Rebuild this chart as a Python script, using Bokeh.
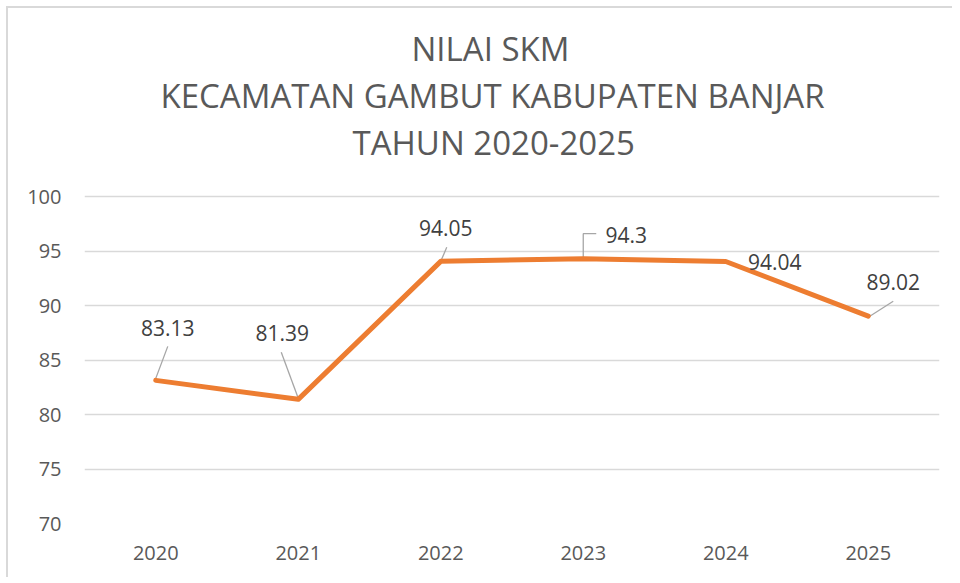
from bokeh.plotting import figure
from bokeh.models import ColumnDataSource, FactorRange, Range1d, FixedTicker, Title
from bokeh.core.properties import value
from bokeh.embed import file_html
from bokeh.resources import INLINE

# ---- data ----
years = ["2020", "2021", "2022", "2023", "2024", "2025"]
skm = [83.13, 81.39, 94.05, 94.3, 94.04, 89.02]
label_text = ["83.13", "81.39", "94.05", "94.3", "94.04", "89.02"]
y_ticks = [70, 75, 80, 85, 90, 95, 100]
title_lines = ["NILAI SKM", "KECAMATAN GAMBUT KABUPATEN BANJAR", "TAHUN 2020-2025"]

# ---- styling: label placement in screen pixels relative to each point ----
label_dx = [12, -16, 5, 43, 49, 25]
label_dy = [-52, -66, -33, -24, 1, -34]
leaders = [
    [(0, -2), (12, -34)],
    [(0, -1), (-17, -47)],
    [(0, 0), (6, -14)],
    [(0, -1), (0, -25), (13, -25)],
    [],
    [(0, 1), (25, -15)],
]
# title: left offsets (px from frame left) that centre each line near x=491
title_offsets = [327, 76, 268]

W, H = 946, 571
ML, MR, MT, MB = 76, 15, 156, 56
frame_w = W - ML - MR
frame_h = H - MT - MB
px_per_unit = 327 / (y_ticks[-1] - y_ticks[0])       # 30 units -> 327 px as in the reference
y_top = y_ticks[0] + frame_h / px_per_unit            # headroom above 100 for the title gap
px_per_cat = frame_w / len(years)

FONT = "Open Sans"

p = figure(
    width=W, height=H,
    x_range=FactorRange(factors=years, range_padding=0),
    y_range=Range1d(y_ticks[0], y_top),
    output_backend="svg", toolbar_location=None,
    min_border_left=ML, min_border_right=MR, min_border_top=MT, min_border_bottom=MB,
)
p.styles = {"border-top": "2px solid #d9d9d9", "border-left": "2px solid #d9d9d9",
            "margin-left": "6px", "margin-top": "6px"}
p.outline_line_color = None
p.background_fill_color = "white"
p.border_fill_color = "white"

# title lines, stacked upward from the frame
for line, off in reversed(list(zip(title_lines, title_offsets))):
    p.add_layout(Title(text=line, align="left", offset=off,
                       text_font=FONT, text_font_size="33px", text_font_style="normal",
                       text_color="#595959", standoff=0), "above")

# axes
p.yaxis.ticker = FixedTicker(ticks=y_ticks)
for ax in (p.xaxis, p.yaxis):
    ax.axis_line_color = None
    ax.major_tick_line_color = None
    ax.minor_tick_line_color = None
    ax.major_label_text_font = FONT
    ax.major_label_text_font_size = "20px"
    ax.major_label_text_color = "#595959"
p.yaxis.major_label_standoff = 17
p.xaxis.major_label_standoff = 16

p.xgrid.grid_line_color = None
p.ygrid.grid_line_color = "#d9d9d9"
p.ygrid.grid_line_width = 1.6

# leader lines (pixel offsets converted to data units)
lx, ly = [], []
for yr, v, pts in zip(years, skm, leaders):
    if not pts:
        continue
    lx.append([(yr, dx / px_per_cat) for dx, dy in pts])
    ly.append([v - dy / px_per_unit for dx, dy in pts])
p.multi_line(xs=lx, ys=ly, line_color="#a6a6a6", line_width=1.3)

# the series line
src = ColumnDataSource(dict(year=years, skm=skm, label=label_text, dx=label_dx, dy=label_dy))
p.line(x="year", y="skm", source=src, line_color="#ED7D31", line_width=5,
       line_join="round", line_cap="round")

# data labels
p.text(x="year", y="skm", text="label", source=src, x_offset="dx", y_offset="dy",
       text_align="center", text_baseline="middle",
       text_font=value(FONT), text_font_size="21px", text_color="#404040")

open("out.html", "w").write(file_html(p, INLINE))
